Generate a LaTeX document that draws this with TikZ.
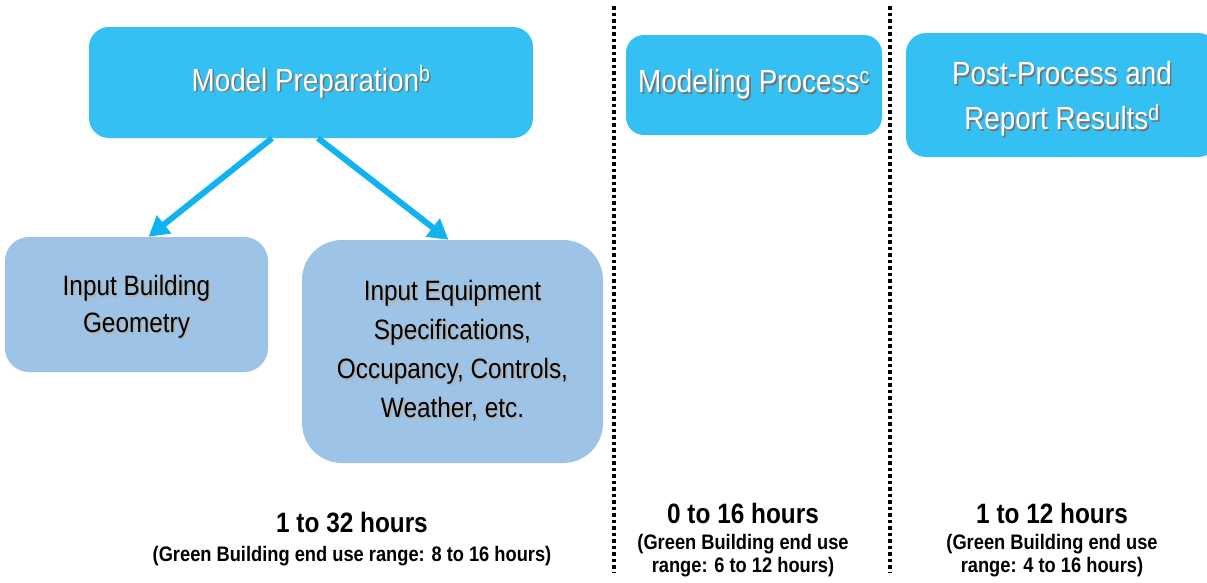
\documentclass[tikz,border=0pt]{standalone}
\usepackage{fontspec}
\setmainfont{Liberation Sans}
\newfontfamily\narrowfont[FakeStretch=0.87]{Liberation Sans}
\usetikzlibrary{arrows.meta}
\definecolor{topblue}{RGB}{53,192,243}
\definecolor{lowblue}{RGB}{157,195,230}
\definecolor{arrowblue}{RGB}{16,178,240}
\newcommand\shtext[2][black!55]{\leavevmode\rlap{\kern1.6pt\raisebox{-1.6pt}{\color{#1}#2}}#2}
\tikzset{
  topbox/.style={draw=none, fill=topblue, rounded corners=20pt, inner sep=0pt,
    text=white, align=center, font=\narrowfont\fontsize{32}{45}\selectfont},
  lowbox/.style={draw=none, fill=lowblue, inner sep=0pt,
    text=black, align=center},
  conn/.style={draw=arrowblue, line width=6pt, -{Triangle[length=20pt,width=22pt]}},
  sep/.style={draw=black, line width=4pt, dash pattern=on 3.6pt off 2.9pt},
  hourtitle/.style={font=\narrowfont\bfseries\fontsize{28}{30}\selectfont, inner sep=0pt},
  hoursub/.style={font=\narrowfont\bfseries\fontsize{21}{23}\selectfont, align=center, inner sep=0pt}
}
\begin{document}
\begin{tikzpicture}[x=1pt,y=-1pt]
\clip (0,0) rectangle (1207,582);
\fill[white] (0,0) rectangle (1207,582);

% top boxes
\node[topbox, minimum width=444pt, minimum height=111pt] (mp) at (311,82.5)
  {\shtext{Model Preparation\textsuperscript{b}}};
\node[topbox, minimum width=256pt, minimum height=100pt, rounded corners=18pt] (mproc) at (754,85)
  {\shtext{Modeling Process\textsuperscript{c}}};
\node[topbox, minimum width=312pt, minimum height=124pt] (post) at (1062,95)
  {\rule{0pt}{33pt}\shtext{Post-Process and}\\\shtext{Report Results\textsuperscript{d}}};

% lower boxes
\node[lowbox, rounded corners=24pt, minimum width=263pt, minimum height=135pt,
  font=\narrowfont\fontsize{28}{37}\selectfont] (ib) at (136.5,304.5)
  {\rule{0pt}{27pt}\shtext[black!30]{Input Building}\\\shtext[black!30]{Geometry}};
\node[lowbox, rounded corners=40pt, minimum width=301pt, minimum height=223pt,
  font=\narrowfont\fontsize{28}{39}\selectfont] (ie) at (452.5,351.5)
  {\shtext[black!30]{Input Equipment}\\\shtext[black!30]{Specifications,}\\\shtext[black!30]{Occupancy, Controls,}\\\shtext[black!30]{Weather, etc.}};

% arrows
\draw[conn] ([xshift=-39pt]mp.south) -- ([xshift=12pt]ib.north);
\draw[conn] ([xshift=7pt]mp.south) -- ([xshift=-4pt]ie.north);

% separators
\draw[sep] (614,6) -- (614,572);
\draw[sep] (890,6) -- (890,572);

% hours
\node[hourtitle] (h1) at (352,523) {1 to 32 hours};
\node[hoursub] (s1) at (352,556) {(Green Building end use range: 8 to 16 hours)};
\node[hourtitle] (h2) at (743,513) {0 to 16 hours};
\node[hoursub] (s2) at (743,556) {(Green Building end use\\range: 6 to 12 hours)};
\node[hourtitle] (h3) at (1052,513) {1 to 12 hours};
\node[hoursub] (s3) at (1052,556) {(Green Building end use\\range: 4 to 16 hours)};
\end{tikzpicture}
\end{document}
